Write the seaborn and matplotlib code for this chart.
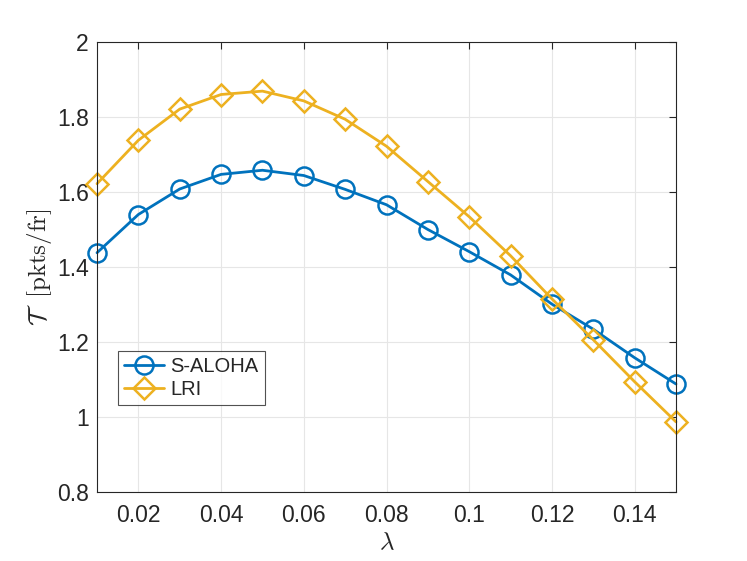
import numpy as np
import pandas as pd
import matplotlib
matplotlib.use("Agg")
import matplotlib.pyplot as plt
import seaborn as sns

# arrival rate and throughput
lam = [0.01, 0.02, 0.03, 0.04, 0.05, 0.06, 0.07, 0.08,
       0.09, 0.10, 0.11, 0.12, 0.13, 0.14, 0.15]
s_aloha = [1.438, 1.540, 1.608, 1.647, 1.658, 1.644, 1.607, 1.566,
           1.500, 1.441, 1.379, 1.301, 1.234, 1.158, 1.088]
lri = [1.622, 1.738, 1.821, 1.860, 1.869, 1.843, 1.794, 1.722,
       1.628, 1.534, 1.430, 1.315, 1.206, 1.094, 0.987]
xticks = [0.02, 0.04, 0.06, 0.08, 0.10, 0.12, 0.14]
yticks = [0.8, 1.0, 1.2, 1.4, 1.6, 1.8, 2.0]

sns.set_style("white")
plt.rcParams['font.family'] = ['Liberation Sans', 'DejaVu Sans']
plt.rcParams['mathtext.fontset'] = 'cm'

blue = '#0072BD'
gold = '#EDB120'
dark = '#262626'

fig = plt.figure(figsize=(7.47, 5.61), dpi=100)
ax = fig.add_axes([97/747, 1-492/561, (676-97)/747, (492-42)/561])

df = pd.DataFrame({'lam': lam, 'S-ALOHA': s_aloha, 'LRI': lri})
sns.lineplot(data=df, x='lam', y='S-ALOHA', ax=ax, color=blue, lw=2,
             marker='o', markersize=13, markerfacecolor='none',
             markeredgecolor=blue, markeredgewidth=1.8, label='S-ALOHA',
             clip_on=False, zorder=3)
sns.lineplot(data=df, x='lam', y='LRI', ax=ax, color=gold, lw=2,
             marker='D', markersize=11, markerfacecolor='none',
             markeredgecolor=gold, markeredgewidth=1.8, label='LRI',
             clip_on=False, zorder=3)

ax.set_xlim(0.01, 0.15)
ax.set_ylim(0.8, 2.0)
ax.set_xticks(xticks)
ax.set_xticklabels([f"{t:g}" for t in xticks])
ax.set_yticks(yticks)
ax.set_yticklabels([f"{t:g}" for t in yticks])
ax.grid(True, color='#e6e6e6', lw=0.8)
ax.tick_params(direction='in', top=True, right=True, length=5,
               labelsize=16.5, colors=dark, width=0.8)
ax.tick_params(axis='x', pad=9)
ax.tick_params(axis='y', pad=6)
for s in ax.spines.values():
    s.set_color(dark)
    s.set_linewidth(0.8)
    s.set_zorder(4)

ax.set_xlabel(r'$\lambda$', fontsize=18, color=dark, labelpad=2)
ax.set_ylabel(r'$\mathcal{T}\ \ \mathrm{[pkts/fr]}$', fontsize=18, color=dark, labelpad=2)

leg = ax.legend(loc='upper left', bbox_to_anchor=(118/747, 1-351/561),
                bbox_transform=fig.transFigure, fontsize=14.5, frameon=True,
                fancybox=False, edgecolor=dark, handlelength=2.0,
                handletextpad=0.3, borderpad=0.3, labelspacing=0.2,
                borderaxespad=0)
leg.get_frame().set_linewidth(0.8)

fig.savefig('out.png', dpi=100)
